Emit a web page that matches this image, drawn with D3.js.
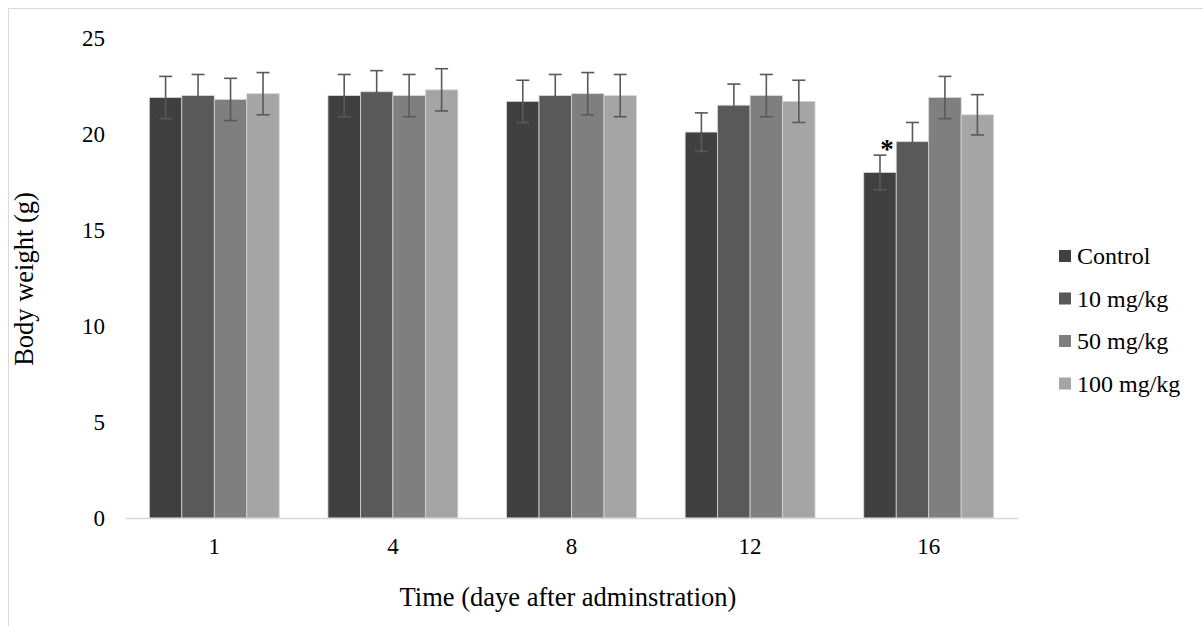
<!DOCTYPE html>
<html>
<head>
<meta charset="utf-8">
<script src="https://cdn.jsdelivr.net/npm/d3@7"></script>
<style>
  body { margin: 0; background: #fff; }
  svg text { font-family: "Liberation Serif", "Times New Roman", serif; fill: #000; }
</style>
</head>
<body>
<div id="chart"></div>
<script>
// data
const days = ["1", "4", "8", "12", "16"];
const groups = ["Control", "10 mg/kg", "50 mg/kg", "100 mg/kg"];
const control = [21.9, 22.0, 21.7, 20.1, 18.0];
const mg10 = [22.0, 22.2, 22.0, 21.5, 19.6];
const mg50 = [21.8, 22.0, 22.1, 22.0, 21.9];
const mg100 = [22.1, 22.3, 22.0, 21.7, 21.0];
const errControl = [1.1, 1.1, 1.1, 1.0, 0.9];
const err10 = [1.1, 1.1, 1.1, 1.1, 1.0];
const err50 = [1.1, 1.1, 1.1, 1.1, 1.1];
const err100 = [1.1, 1.1, 1.1, 1.1, 1.05];
const yTicks = [0, 5, 10, 15, 20, 25];
const starred = [{ day: "16", group: "Control" }];

const colors = ["#404040", "#595959", "#7f7f7f", "#a5a5a5"];
const values = [control, mg10, mg50, mg100];
const errs = [errControl, err10, err50, err100];

const width = 1203, height = 626;
const svg = d3.select("#chart").append("svg")
    .attr("width", width).attr("height", height);

// outer frame (only top and left edges are visible)
svg.append("path")
    .attr("d", "M8.5,626 V8.5 H1203")
    .attr("fill", "none").attr("stroke", "#d9d9d9").attr("stroke-width", 1);

const x0 = d3.scaleBand().domain(days).range([125, 1018]).padding(0);
const x1 = d3.scaleBand().domain(groups).range([0, x0.bandwidth()])
    .paddingInner(0).paddingOuter(0.75);
const y = d3.scaleLinear().domain([0, 25]).range([518, 38]);

const color = d3.scaleOrdinal().domain(groups).range(colors);

const rows = [];
days.forEach((d, i) => {
    groups.forEach((g, j) => {
        rows.push({ day: d, group: g, value: values[j][i], err: errs[j][i] });
    });
});

// bars
svg.append("g")
    .selectAll("rect")
    .data(rows)
    .enter().append("rect")
    .attr("x", d => x0(d.day) + x1(d.group))
    .attr("y", d => y(d.value))
    .attr("width", x1.bandwidth())
    .attr("height", d => y(0) - y(d.value))
    .attr("fill", d => color(d.group))
    .attr("stroke", "#d6d6d6")
    .attr("stroke-width", 0.8);

// error bars
const eb = svg.append("g")
    .attr("stroke", "#595959").attr("stroke-width", 1.6)
    .selectAll("g")
    .data(rows)
    .enter().append("g")
    .attr("transform", d => `translate(${x0(d.day) + x1(d.group) + x1.bandwidth() / 2},0)`);
eb.append("line")
    .attr("x1", 0).attr("x2", 0)
    .attr("y1", d => y(d.value + d.err)).attr("y2", d => y(d.value - d.err));
eb.append("line")
    .attr("x1", -6.5).attr("x2", 6.5)
    .attr("y1", d => y(d.value + d.err)).attr("y2", d => y(d.value + d.err));
eb.append("line")
    .attr("x1", -6.5).attr("x2", 6.5)
    .attr("y1", d => y(d.value - d.err)).attr("y2", d => y(d.value - d.err));

// significance mark
svg.append("g")
    .selectAll("text")
    .data(starred)
    .enter().append("text")
    .attr("x", d => x0(d.day) + x1(d.group) + x1.bandwidth() / 2 + 7)
    .attr("y", d => {
        const r = rows.find(e => e.day === d.day && e.group === d.group);
        return y(r.value + r.err) + 3;
    })
    .attr("text-anchor", "middle")
    .style("font-size", "27px").style("font-weight", "bold")
    .text("*");

// x axis
const xAxis = svg.append("g")
    .attr("transform", `translate(0,${y(0)})`)
    .call(d3.axisBottom(x0).tickSize(0).tickPadding(20));
xAxis.select(".domain").attr("stroke", "#d9d9d9").attr("stroke-width", 1.5);
xAxis.selectAll("text").style("font-size", "23px");

// y axis
const yAxis = svg.append("g")
    .attr("transform", "translate(125,0)")
    .call(d3.axisLeft(y).tickValues(yTicks).tickSize(0).tickPadding(20));
yAxis.select(".domain").remove();
yAxis.selectAll("text").style("font-size", "23px");

// axis titles
svg.append("text")
    .attr("x", 568).attr("y", 606)
    .attr("text-anchor", "middle")
    .style("font-size", "26.5px")
    .text("Time (daye after adminstration)");
svg.append("text")
    .attr("transform", "translate(33,279) rotate(-90)")
    .attr("text-anchor", "middle")
    .style("font-size", "26.5px")
    .text("Body weight (g)");

// legend
const legend = svg.append("g")
    .selectAll("g")
    .data(groups)
    .enter().append("g")
    .attr("transform", (d, i) => `translate(1059,${256 + i * 42.5})`);
legend.append("rect")
    .attr("x", 0).attr("y", -6)
    .attr("width", 12).attr("height", 12)
    .attr("fill", d => color(d));
legend.append("text")
    .attr("x", 18).attr("y", 8)
    .style("font-size", "24px")
    .text(d => d);
</script>
</body>
</html>
